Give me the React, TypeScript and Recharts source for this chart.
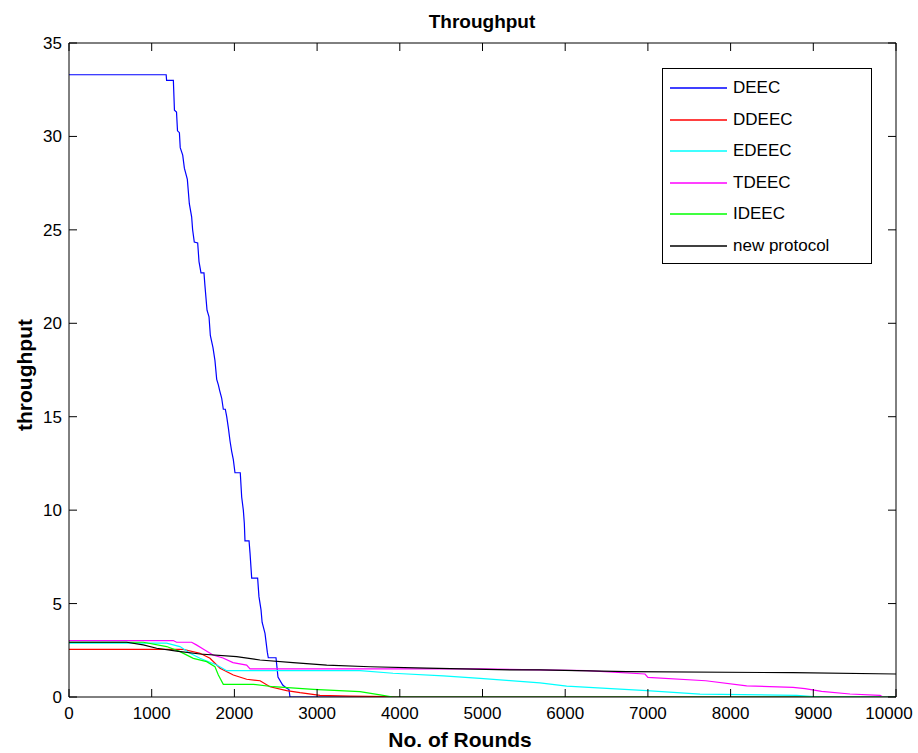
import { LineChart, Line, XAxis, YAxis, Legend } from 'recharts';

const roundTicks = [0, 1000, 2000, 3000, 4000, 5000, 6000, 7000, 8000, 9000, 10000];
const throughputTicks = [0, 5, 10, 15, 20, 25, 30, 35];

// DEEC
const deecRounds = [0, 1175, 1180, 1262, 1275, 1300, 1312, 1335, 1345, 1375, 1395, 1431, 1455, 1483, 1495, 1515, 1556, 1572, 1596, 1632, 1644, 1669, 1693, 1709, 1741, 1765, 1786, 1806, 1822, 1846, 1866, 1890, 1907, 1927, 1947, 1967, 1987, 2007, 2071, 2088, 2108, 2120, 2128, 2177, 2189, 2209, 2281, 2297, 2322, 2335, 2370, 2398, 2410, 2503, 2527, 2584, 2624, 2660, 2672, 10000];
const deecValues = [33.3, 33.3, 33.0, 33.0, 31.4, 31.3, 30.3, 30.2, 29.4, 29.0, 28.3, 27.7, 26.4, 25.7, 25.0, 24.35, 24.3, 23.3, 22.7, 22.7, 22.0, 20.7, 20.35, 19.35, 18.7, 18.0, 17.0, 16.7, 16.4, 16.0, 15.4, 15.4, 15.0, 14.4, 13.7, 13.15, 12.7, 12.0, 12.0, 10.7, 10.0, 9.3, 8.36, 8.36, 7.7, 6.36, 6.36, 5.37, 4.66, 4.0, 3.4, 2.4, 2.1, 2.1, 1.07, 0.64, 0.5, 0.4, 0, 0];

// DDEEC
const ddeecRounds = [0, 1380, 1584, 1705, 1826, 1987, 2148, 2310, 2430, 2632, 2793, 3035, 3400, 3850, 3950, 10000];
const ddeecValues = [2.55, 2.55, 2.34, 2.07, 1.54, 1.18, 0.95, 0.87, 0.55, 0.34, 0.23, 0.09, 0.05, 0.02, 0, 0];

// EDEEC
const edeecRounds = [0, 1180, 1342, 1463, 1584, 1786, 1907, 3519, 3918, 4526, 4970, 5333, 5695, 6018, 6985, 7630, 8799, 9000, 9100, 10000];
const edeecValues = [2.88, 2.88, 2.7, 2.34, 2.07, 1.71, 1.41, 1.41, 1.27, 1.13, 1.0, 0.88, 0.76, 0.58, 0.34, 0.15, 0.09, 0.02, 0, 0];

// TDEEC
const tdeecRounds = [0, 1261, 1300, 1483, 1540, 1622, 1741, 1862, 1983, 2148, 2189, 4970, 5490, 6260, 6965, 7000, 7700, 8194, 8755, 8900, 9100, 9444, 9807, 9843, 10000];
const tdeecValues = [3.02, 3.02, 2.93, 2.93, 2.79, 2.57, 2.25, 2.09, 1.84, 1.71, 1.5, 1.5, 1.47, 1.41, 1.23, 1.05, 0.87, 0.6, 0.52, 0.45, 0.3, 0.16, 0.09, 0, 0];

// IDEEC
const ideecRounds = [0, 899, 1181, 1342, 1503, 1665, 1765, 1806, 1866, 2229, 2471, 2954, 3519, 3761, 3918, 10000];
const ideecValues = [2.93, 2.93, 2.7, 2.43, 2.07, 1.89, 1.62, 1.18, 0.68, 0.68, 0.55, 0.41, 0.29, 0.11, 0, 0];

// new protocol
const newRounds = [0, 697, 897, 1060, 1302, 1584, 2027, 2310, 2709, 3116, 3640, 4325, 5333, 5695, 6744, 8755, 10000];
const newValues = [2.93, 2.93, 2.79, 2.61, 2.46, 2.3, 2.16, 1.98, 1.84, 1.71, 1.62, 1.54, 1.45, 1.45, 1.36, 1.3, 1.23];

const toPoints = (rounds: number[], values: number[]) =>
  rounds.map((r, i) => ({ round: r, value: values[i] }));

const series = [
  { name: 'DEEC', color: '#0000ff', data: toPoints(deecRounds, deecValues) },
  { name: 'DDEEC', color: '#ff0000', data: toPoints(ddeecRounds, ddeecValues) },
  { name: 'EDEEC', color: '#00ffff', data: toPoints(edeecRounds, edeecValues) },
  { name: 'TDEEC', color: '#ff00ff', data: toPoints(tdeecRounds, tdeecValues) },
  { name: 'IDEEC', color: '#00ff00', data: toPoints(ideecRounds, ideecValues) },
  { name: 'new protocol', color: '#000000', data: toPoints(newRounds, newValues) },
];

const FONT = '"Liberation Sans", Arial, sans-serif';

const BottomTick = (props: any) => {
  const { x, y, payload } = props;
  // last label sits a little inside the figure edge, as in the original
  const tx = payload.value === 10000 ? x - 7 : x;
  return (
    <g>
      <line x1={x} y1={y} x2={x} y2={y - 8} stroke="#000" />
      <text x={tx} y={y + 22} textAnchor="middle" fontSize={17} fontFamily={FONT} fill="#000">
        {payload.value}
      </text>
    </g>
  );
};

const TopTick = (props: any) => {
  const { x, y } = props;
  return <line x1={x} y1={y} x2={x} y2={y + 8} stroke="#000" />;
};

const LeftTick = (props: any) => {
  const { x, y, payload } = props;
  return (
    <g>
      <line x1={x} y1={y} x2={x + 8} y2={y} stroke="#000" />
      <text x={x - 7} y={y + 6} textAnchor="end" fontSize={17} fontFamily={FONT} fill="#000">
        {payload.value}
      </text>
    </g>
  );
};

const RightTick = (props: any) => {
  const { x, y } = props;
  return <line x1={x} y1={y} x2={x - 8} y2={y} stroke="#000" />;
};

const renderLegend = () => (
  <div
    style={{
      position: 'relative',
      width: 210,
      height: 196,
      boxSizing: 'border-box',
      border: '1px solid #000',
      background: '#fff',
      fontFamily: FONT,
      fontSize: 17,
    }}
  >
    {series.map((s, i) => (
      <div
        key={s.name}
        style={{ position: 'absolute', left: 7, top: Math.round(9 + i * 31.5), height: 20, display: 'flex', alignItems: 'center' }}
      >
        <svg width={57} height={4} style={{ display: 'block' }}>
          <line x1={0} y1={2} x2={57} y2={2} stroke={s.color} strokeWidth={1.5} />
        </svg>
        <span style={{ marginLeft: 6, color: '#000', lineHeight: '20px' }}>{s.name}</span>
      </div>
    ))}
  </div>
);

export default function App() {
  return (
    <div style={{ position: 'absolute', left: 0, top: 0, width: 918, height: 753, background: '#fff' }}>
      <LineChart width={918} height={753} margin={{ top: 42, right: 21, bottom: 0, left: 0 }}>
        <XAxis
          dataKey="round"
          type="number"
          domain={[0, 10000]}
          ticks={roundTicks}
          interval={0}
          height={56}
          tickSize={0}
          tickMargin={0}
          tickLine={false}
          axisLine={{ stroke: '#000' }}
          tick={<BottomTick />}
          allowDataOverflow
        />
        <XAxis
          xAxisId="top"
          orientation="top"
          dataKey="round"
          type="number"
          domain={[0, 10000]}
          ticks={roundTicks}
          interval={0}
          height={1}
          tickSize={0}
          tickMargin={0}
          tickLine={false}
          axisLine={{ stroke: '#000' }}
          tick={<TopTick />}
          allowDataOverflow
        />
        <YAxis
          type="number"
          domain={[0, 35]}
          ticks={throughputTicks}
          interval={0}
          width={69}
          tickSize={0}
          tickMargin={0}
          tickLine={false}
          axisLine={{ stroke: '#000' }}
          tick={<LeftTick />}
          allowDataOverflow
        />
        <YAxis
          yAxisId="right"
          orientation="right"
          type="number"
          domain={[0, 35]}
          ticks={throughputTicks}
          interval={0}
          width={1}
          tickSize={0}
          tickMargin={0}
          tickLine={false}
          axisLine={{ stroke: '#000' }}
          tick={<RightTick />}
          allowDataOverflow
        />
        <Legend
          layout="horizontal"
          align="center"
          verticalAlign="middle"
          content={renderLegend}
          wrapperStyle={{ left: 662, top: 68, width: 210, height: 196 }}
        />
        {/* hidden copy so the top and right frame axes get drawn */}
        <Line
          data={series[0].data}
          dataKey="value"
          xAxisId="top"
          yAxisId="right"
          stroke="none"
          dot={false}
          activeDot={false}
          legendType="none"
          isAnimationActive={false}
        />
        {series.map((s) => (
          <Line
            key={s.name}
            data={s.data}
            dataKey="value"
            name={s.name}
            type="linear"
            stroke={s.color}
            strokeWidth={1.2}
            dot={false}
            activeDot={false}
            isAnimationActive={false}
          />
        ))}
      </LineChart>
      <div
        style={{
          position: 'absolute',
          left: 382,
          width: 200,
          top: 10,
          textAlign: 'center',
          fontFamily: FONT,
          fontWeight: 'bold',
          fontSize: 19,
          lineHeight: '24px',
        }}
      >
        Throughput
      </div>
      <div
        style={{
          position: 'absolute',
          left: 360,
          width: 200,
          top: 728,
          textAlign: 'center',
          fontFamily: FONT,
          fontWeight: 'bold',
          fontSize: 21,
          lineHeight: '24px',
        }}
      >
        No. of Rounds
      </div>
      <div
        style={{
          position: 'absolute',
          left: 25 - 100,
          top: 375 - 12,
          width: 200,
          textAlign: 'center',
          transform: 'rotate(-90deg)',
          fontFamily: FONT,
          fontWeight: 'bold',
          fontSize: 21,
          lineHeight: '24px',
        }}
      >
        throughput
      </div>
    </div>
  );
}
